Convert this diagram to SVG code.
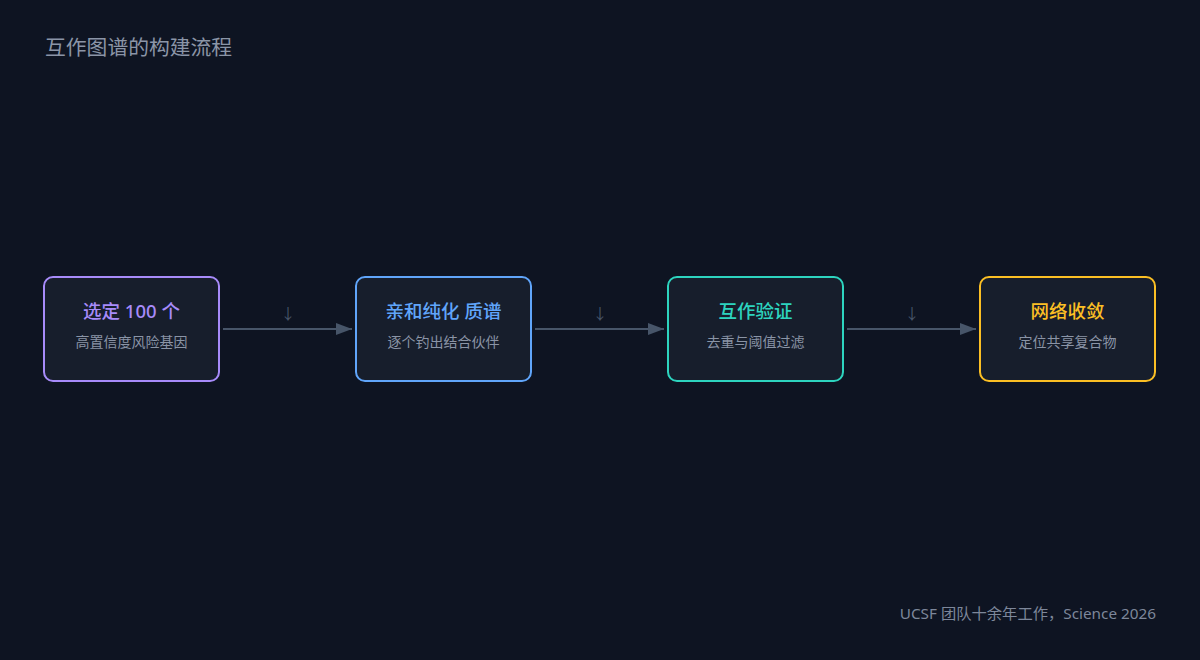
<svg xmlns="http://www.w3.org/2000/svg" width="1200" height="660" viewBox="0 0 1200 660">
<defs>
<style>
.bg{fill:#0e1422}
.box{fill:#171e2c;stroke-width:2}
.t{font-family:"Noto Sans","Noto Sans CJK SC",sans-serif;font-size:18.5px;font-weight:500;text-anchor:middle}
.s{font-family:"Noto Sans","Noto Sans CJK SC",sans-serif;font-size:14px;fill:#8a94a6;text-anchor:middle}
.edge{stroke:#475569;stroke-width:2;fill:none}
.el{font-family:"Noto Sans","Noto Sans CJK SC",sans-serif;font-size:15px;fill:#475569;text-anchor:middle}
.title{font-family:"Noto Sans","Noto Sans CJK SC",sans-serif;font-size:20.8px;fill:#8b95a7}
.foot{font-family:"Noto Sans","Noto Sans CJK SC",sans-serif;font-size:15.3px;fill:#7d879a;text-anchor:end}
</style>
<marker id="arr" viewBox="0 0 16 12" refX="16" refY="6" markerWidth="16" markerHeight="12" orient="auto" markerUnits="userSpaceOnUse">
<path d="M0,0 L16,6 L0,12 z" fill="#475569"/>
</marker>
</defs>
<rect class="bg" x="0" y="0" width="1200" height="660"/>
<text class="title" x="45" y="55">互作图谱的构建流程</text>
<g id="connectors">
<line class="edge" x1="223" y1="329" x2="352" y2="329" marker-end="url(#arr)"/>
<text class="el" x="288" y="319">↓</text>
<line class="edge" x1="535" y1="329" x2="664" y2="329" marker-end="url(#arr)"/>
<text class="el" x="600" y="319">↓</text>
<line class="edge" x1="847" y1="329" x2="976" y2="329" marker-end="url(#arr)"/>
<text class="el" x="912" y="319">↓</text>
</g>
<g id="node1">
<rect class="box" x="44" y="277" width="175" height="104" rx="9" stroke="#a78bfa"/>
<text class="t" x="131.5" y="318" fill="#a78bfa">选定 100 个</text>
<text class="s" x="131.5" y="347">高置信度风险基因</text>
</g>
<g id="node2">
<rect class="box" x="356" y="277" width="175" height="104" rx="9" stroke="#60a5fa"/>
<text class="t" x="443.5" y="318" fill="#60a5fa">亲和纯化 质谱</text>
<text class="s" x="443.5" y="347">逐个钓出结合伙伴</text>
</g>
<g id="node3">
<rect class="box" x="668" y="277" width="175" height="104" rx="9" stroke="#2dd4bf"/>
<text class="t" x="755.5" y="318" fill="#2dd4bf">互作验证</text>
<text class="s" x="755.5" y="347">去重与阈值过滤</text>
</g>
<g id="node4">
<rect class="box" x="980" y="277" width="175" height="104" rx="9" stroke="#fbbf24"/>
<text class="t" x="1067.5" y="318" fill="#fbbf24">网络收敛</text>
<text class="s" x="1067.5" y="347">定位共享复合物</text>
</g>
<text class="foot" x="1156" y="619">UCSF 团队十余年工作，Science 2026</text>
</svg>
